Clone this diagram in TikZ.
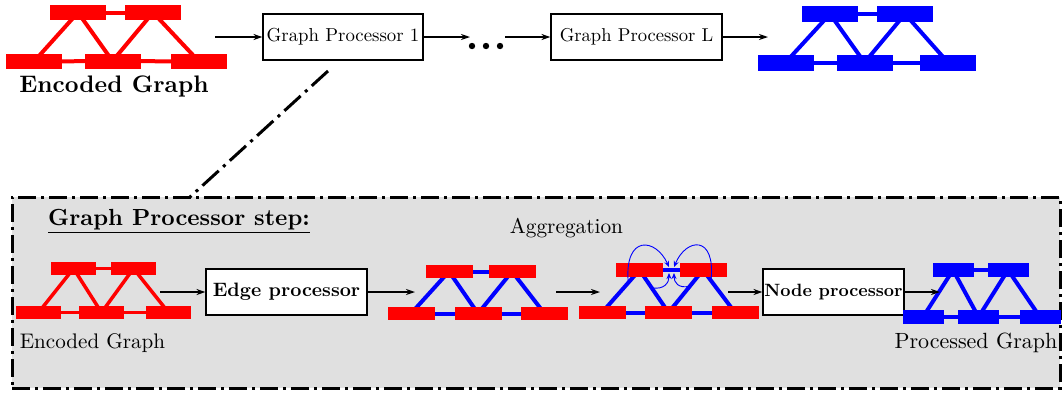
\documentclass[tikz,border=0pt]{standalone}
\usepackage{graphicx}
\usetikzlibrary{arrows.meta,calc}
\pgfdeclarelayer{bg}
\pgfdeclarelayer{edges}
\pgfsetlayers{bg,edges,main}
\definecolor{boxgray}{RGB}{224,224,224}
\newcommand{\sz}[2]{\scalebox{#1}{#2}}
\newcommand{\gnet}[8]{%
  \node[#2] (#1a) at #4 {};
  \node[#2] (#1b) at #5 {};
  \node[#2] (#1c) at #6 {};
  \node[#2] (#1d) at #7 {};
  \node[#2] (#1e) at #8 {};
  \begin{pgfonlayer}{edges}
    \draw[#3] (#1a.center) -- (#1b.center);
    \draw[#3] (#1c.center) -- (#1d.center) -- (#1e.center);
    \draw[#3] (#1a.center) -- (#1c.center);
    \draw[#3] (#1a.center) -- (#1d.center);
    \draw[#3] (#1b.center) -- (#1d.center);
    \draw[#3] (#1b.center) -- (#1e.center);
  \end{pgfonlayer}}
\tikzset{
  gnode/.style={rectangle, inner sep=0pt, outer sep=0pt},
  redge/.style={red, line width=4pt},
  bedge/.style={blue, line width=4pt},
  procbox/.style={draw, line width=1.1pt, inner sep=0pt, fill=white},
  arr/.style={-{Stealth[length=9pt,width=6pt]}, line width=1.4pt},
  aggarr/.style={-{Stealth[length=6pt,width=5pt]}, blue, line width=0.9pt},
  dashdot/.style={line width=3pt, dash pattern=on 18pt off 5pt on 3pt off 5pt},
}
\begin{document}
\begin{tikzpicture}[x=1pt,y=-1pt]
\useasboundingbox (0,0) rectangle (1063,392);

% ---------- top row ----------
\gnet{ga}{gnode, fill=red, minimum width=56pt, minimum height=15pt}{redge}{(78,12.5)}{(153,12.5)}{(34,61.5)}{(112.5,61)}{(199,61.5)}
\node[anchor=base, inner sep=0pt] (lblenctop) at (114,92) {\sz{2.39}{\bfseries Encoded Graph}};

\node[procbox, minimum width=160pt, minimum height=46pt] (gp1) at (343,37) {\sz{1.88}{Graph Processor 1}};
\node[inner sep=0pt, minimum width=34pt, minimum height=10pt] (dots) at (486,46) {};
\fill (472,46) circle (3.2pt) (486,46) circle (3.2pt) (500,46) circle (3.2pt);
\node[procbox, minimum width=171pt, minimum height=46pt] (gpl) at (636.5,37) {\sz{1.86}{Graph Processor L}};

\gnet{gb}{gnode, fill=blue, minimum width=56pt, minimum height=16pt}{bedge}{(830,14)}{(905,14)}{(785.5,62.5)}{(864.5,62.5)}{(948,62.5)}

\coordinate (t1) at (215,37);
\coordinate (t2) at (470,37);
\coordinate (t3) at (505,37);
\coordinate (t4) at (768,37);
\draw[arr] (t1) -- (gp1.west);
\draw[arr] (gp1.east) -- (t2);
\draw[arr] (t3) -- (gpl.west);
\draw[arr] (gpl.east) -- (t4);

% ---------- step box ----------
\begin{pgfonlayer}{bg}
\node[draw, dashdot, fill=boxgray, minimum width=1048pt, minimum height=191pt, inner sep=0pt] (stepbox) at (536,292.5) {};
\end{pgfonlayer}
\coordinate (zA) at (328,71);
\coordinate (zB) at (190,197);
\draw[dashdot, dash pattern=on 22pt off 6pt on 3pt off 6pt] (zA) -- (zB);

\node[anchor=base west, inner sep=0pt] (steptitle) at (48,225) {\sz{2.33}{\bfseries\underline{Graph Processor step:}}};

% bottom-left encoded graph
\gnet{gc}{gnode, fill=red, minimum width=45pt, minimum height=13pt}{red, line width=3.5pt}{(73.5,268.5)}{(133.5,268.5)}{(38.5,312.5)}{(101.5,312.5)}{(168.5,312.5)}
\node[anchor=base, inner sep=0pt] (lblencbot) at (92.5,348) {\sz{2.11}{Encoded Graph}};

\node[procbox, minimum width=161pt, minimum height=46pt] (edgep) at (286.5,292) {\sz{1.94}{\bfseries Edge processor}};

% after edge processor
\gnet{gd}{gnode, fill=red, minimum width=47pt, minimum height=13.5pt}{bedge}{(449,271.5)}{(512,271.5)}{(411,313.5)}{(478,313.5)}{(544.5,313.5)}

\node[anchor=base, inner sep=0pt] (aggl) at (566.5,233) {\sz{2.13}{Aggregation}};

% aggregation graph
\gnet{ge}{gnode, fill=red, minimum width=47pt, minimum height=13.5pt}{bedge}{(639.5,270)}{(703,270)}{(602,312.5)}{(668.5,312.5)}{(735,312.5)}
\coordinate (agA) at ($(gea)!0.3!(gec)$);
\coordinate (agB) at ($(gea)!0.42!(ged)$);
\coordinate (agC) at ($(geb)!0.25!(gee)$);
\coordinate (agD) at ($(geb)!0.38!(ged)$);
\coordinate (agA2) at (669,267);
\coordinate (agB2) at (669,273);
\coordinate (agC2) at (674,267);
\coordinate (agD2) at (674,273);
\draw[aggarr] (agA) .. controls (624,234) and (656,238) .. (agA2);
\draw[aggarr] (agB) .. controls (665,290) and (669,282) .. (agB2);
\draw[aggarr] (agC) .. controls (716,234) and (686,238) .. (agC2);
\draw[aggarr] (agD) .. controls (678,289) and (674,282) .. (agD2);

\node[procbox, minimum width=141pt, minimum height=46pt] (nodep) at (833.5,292) {\sz{1.78}{\bfseries Node processor}};

% processed graph
\gnet{gf}{gnode, fill=blue, minimum width=41pt, minimum height=14pt}{bedge}{(953,270)}{(1008,270)}{(923,317)}{(978.5,317)}{(1040,317)}
\node[anchor=base, inner sep=0pt] (lblproc) at (976,348) {\sz{2.2}{Processed Graph}};

\coordinate (b1) at (160,292);
\coordinate (b2) at (415,292);
\coordinate (b3) at (556,292);
\coordinate (b4) at (600,292);
\coordinate (b5) at (728,292);
\coordinate (b6) at (940,292);
\draw[arr] (b1) -- (edgep.west);
\draw[arr] (edgep.east) -- (b2);
\draw[arr] (b3) -- (b4);
\draw[arr] (b5) -- (nodep.west);
\draw[arr] (nodep.east) -- (b6);
\end{tikzpicture}
\end{document}
